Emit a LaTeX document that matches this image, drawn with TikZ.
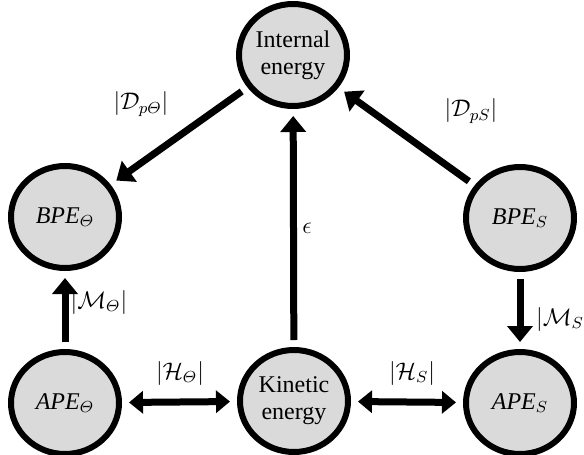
\documentclass[tikz,border=0pt]{standalone}
\usepackage{amsmath, amssymb}
\usepackage{fontspec}
\setmainfont{Liberation Serif}
\usetikzlibrary{arrows.meta, shapes.geometric}
\definecolor{nodegray}{RGB}{218,218,218}

\begin{document}
\begin{tikzpicture}[x=0.5pt, y=-0.5pt,
  energy/.style={ellipse, draw, line width=3pt, fill=nodegray,
    minimum width=54pt, minimum height=51pt, inner sep=0pt,
    align=center, font=\fontsize{12}{13.5}\selectfont},
  flow/.style={line width=3.5pt, -{Triangle[width=12.5pt,length=8pt]},
    shorten >=3.5pt, shorten <=3.5pt},
  both/.style={flow, {Triangle[width=11pt,length=7pt]}-{Triangle[width=11pt,length=7pt]}},
  lbl/.style={font=\fontsize{11.5}{13}\selectfont}
]
\useasboundingbox (0,0) rectangle (584,455);

\node[energy] (int)  at (293,55)  {Internal\\energy};
\node[energy] (bpet) at (65,217)  {\textit{BPE}$_{\varTheta}$};
\node[energy] (bpes) at (520,218) {\textit{BPE}$_S$};
\node[energy] (apet) at (65,403)  {\textit{APE}$_{\varTheta}$};
\node[energy] (kin)  at (294,401) {Kinetic\\energy};
\node[energy] (apes) at (520,403) {\textit{APE}$_S$};

\draw[flow] (int) -- (bpet);
\draw[flow] (bpes) -- (int);
\draw[flow] (kin) -- (int);
\draw[flow] (apet) -- (bpet);
\draw[flow] (bpes) -- (apes);
\draw[both] (apet) -- (kin);
\draw[both] (kin) -- (apes);

\node[lbl] (dpt) at (141,104) {$|\mathcal{D}_{p\varTheta}|$};
\node[lbl] (dps) at (471,111) {$|\mathcal{D}_{pS}|$};
\node[lbl] (eps) at (307,228) {$\epsilon$};
\node[lbl] (mt)  at (99,302)  {$|\mathcal{M}_{\varTheta}|$};
\node[lbl] (ms)  at (560,319) {$|\mathcal{M}_S$};
\node[lbl] (ht)  at (180,373) {$|\mathcal{H}_{\varTheta}|$};
\node[lbl] (hs)  at (412,373) {$|\mathcal{H}_S|$};

\end{tikzpicture}
\end{document}
